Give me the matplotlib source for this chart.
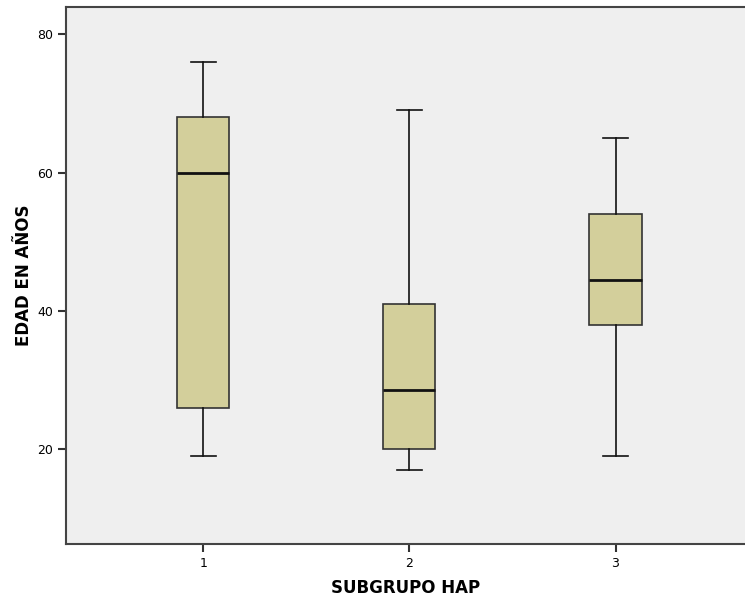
import matplotlib
matplotlib.use('Agg')
from matplotlib import pyplot as plt

groups = ['1', '2', '3']
low_whisker = [19, 17, 19]
q1 = [26, 20, 38]
median = [60, 28.5, 44.5]
q3 = [68, 41, 54]
high_whisker = [76, 69, 65]
y_ticks = [20, 40, 60, 80]

stats = []
for g, lo, a, m, b, hi in zip(groups, low_whisker, q1, median, q3, high_whisker):
    stats.append({'label': g, 'whislo': lo, 'q1': a, 'med': m, 'q3': b, 'whishi': hi, 'fliers': []})

fig = plt.figure(figsize=(7.45, 6), dpi=100)
ax = fig.add_axes([66/745, 1-544/600, 1-66/745, (544-7)/600])
ax.set_facecolor('#efefef')

ax.bxp(stats, positions=[1, 2, 3], widths=0.253, patch_artist=True,
       boxprops=dict(facecolor='#d3cf9b', edgecolor='#333333', linewidth=1.2),
       medianprops=dict(color='#111111', linewidth=2),
       whiskerprops=dict(color='#111111', linewidth=1.2),
       capprops=dict(color='#111111', linewidth=1.2),
       capwidths=0.122)

ax.set_xlim(0.335, 3.628)
ax.set_ylim(6.25, 83.95)
ax.set_yticks(y_ticks)
ax.set_xticks([1, 2, 3])
ax.set_xticklabels(groups)
ax.tick_params(direction='out', length=6, width=1.5, labelsize=9, color='#333333')

for s in ['left', 'bottom', 'top']:
    ax.spines[s].set_color('#444444')
    ax.spines[s].set_linewidth(1.5)
ax.spines['right'].set_visible(False)

ax.set_ylabel('EDAD EN AÑOS', fontsize=12, fontweight='bold', labelpad=3)
ax.set_xlabel('SUBGRUPO HAP', fontsize=12, fontweight='bold', labelpad=6)

fig.savefig('out.png', dpi=100)
